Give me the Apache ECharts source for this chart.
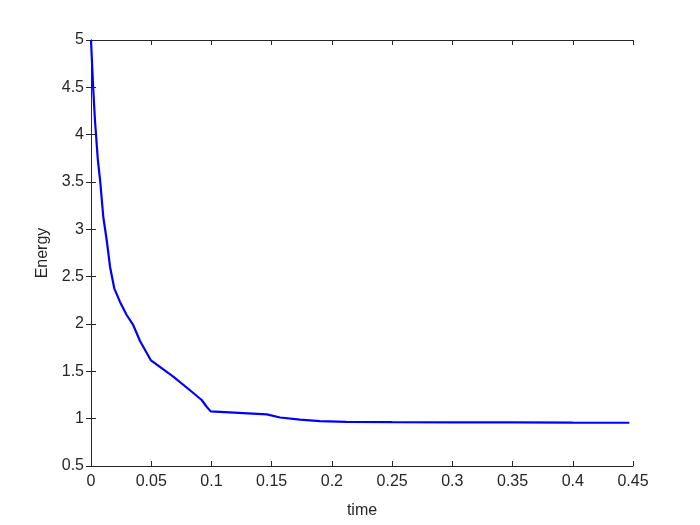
<!DOCTYPE html>
<html>
<head>
<meta charset="utf-8">
<script src="https://cdn.jsdelivr.net/npm/echarts@6/dist/echarts.min.js"></script>
<style>
    html, body { margin: 0; padding: 0; background: #fff; }
    #chart { width: 700px; height: 525px; }
</style>
</head>
<body>
<div id="chart"></div>
<script>
// energy over time
var timeValues = [0, 0.0017, 0.0033, 0.0057, 0.0077, 0.0102, 0.013, 0.0158, 0.0193, 0.024, 0.0296, 0.035,
    0.0407, 0.0498, 0.0683, 0.0822, 0.0919, 0.096, 0.0994, 0.1002, 0.146, 0.157, 0.1735, 0.19, 0.212,
    0.25, 0.30, 0.35, 0.40, 0.447];
var energyValues = [5, 4.52, 4.15, 3.73, 3.50, 3.13, 2.89, 2.605, 2.377, 2.236, 2.095, 1.99,
    1.82, 1.615, 1.445, 1.30, 1.197, 1.126, 1.077, 1.073, 1.045, 1.012, 0.99, 0.975, 0.967,
    0.963, 0.961, 0.96, 0.958, 0.957];
var xTicks = [0, 0.05, 0.1, 0.15, 0.2, 0.25, 0.3, 0.35, 0.4, 0.45];
var yTicks = [0.5, 1, 1.5, 2, 2.5, 3, 3.5, 4, 4.5, 5];

var axisColor = '#262626';
var fontFam = '"Liberation Sans", Arial, sans-serif';

var chart = echarts.init(document.getElementById('chart'));

var line_data = [];
for (var i = 0; i < timeValues.length; i++) {
    line_data.push([timeValues[i], energyValues[i]]);
}

var baseAxis = {
    axisLine: { show: true, lineStyle: { color: axisColor, width: 1 } },
    axisTick: { show: true, inside: true, length: 5, lineStyle: { color: axisColor } },
    splitLine: { show: false }
};

var option = {
    animation: false,
    backgroundColor: '#fff',
    grid: { left: 91, right: 67, top: 40, bottom: 59, containLabel: false },
    xAxis: [
        Object.assign({}, baseAxis, {
            type: 'value',
            min: xTicks[0],
            max: xTicks[xTicks.length - 1],
            interval: 0.05,
            name: 'time',
            nameLocation: 'middle',
            nameGap: 37,
            nameTextStyle: { color: axisColor, fontSize: 16, fontFamily: fontFam },
            axisLabel: { color: axisColor, fontSize: 16, fontFamily: fontFam, margin: 8,
                formatter: function (v) { return String(+v.toFixed(2)); } }
        }),
        Object.assign({}, baseAxis, {
            type: 'value', position: 'top',
            min: xTicks[0], max: xTicks[xTicks.length - 1], interval: 0.05,
            axisLabel: { show: false }
        })
    ],
    yAxis: [
        Object.assign({}, baseAxis, {
            type: 'value',
            min: yTicks[0],
            max: yTicks[yTicks.length - 1],
            interval: 0.5,
            name: 'Energy',
            nameLocation: 'middle',
            nameGap: 38,
            nameRotate: 90,
            nameTextStyle: { color: axisColor, fontSize: 16, fontFamily: fontFam },
            axisLabel: { color: axisColor, fontSize: 16, fontFamily: fontFam, margin: 7 }
        }),
        Object.assign({}, baseAxis, {
            type: 'value', position: 'right',
            min: yTicks[0], max: yTicks[yTicks.length - 1], interval: 0.5,
            axisLabel: { show: false }
        })
    ],
    series: [{
        type: 'line',
        data: line_data,
        showSymbol: false,
        symbol: 'none',
        lineStyle: { color: '#0000ff', width: 2.2 },
        itemStyle: { color: '#0000ff' }
    }]
};

chart.setOption(option, true);
</script>
</body>
</html>
